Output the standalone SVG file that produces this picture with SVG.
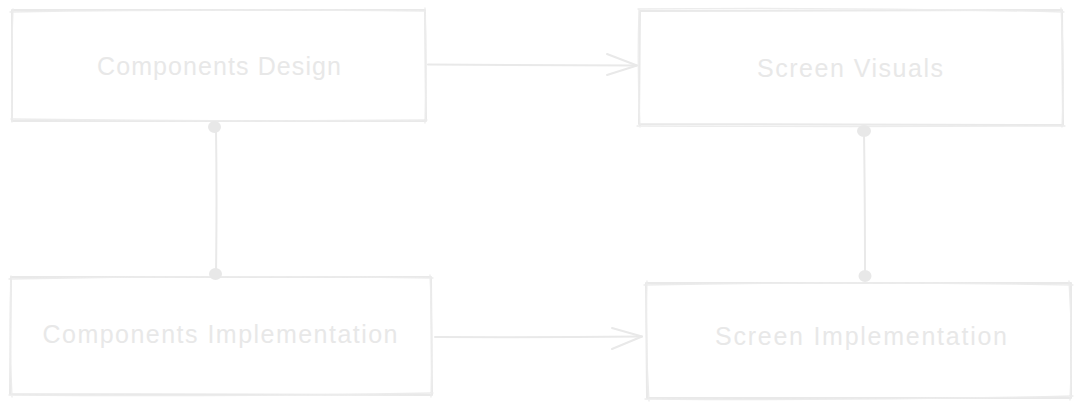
<svg xmlns="http://www.w3.org/2000/svg" width="1080" height="409" viewBox="0 0 1080 409">
<style>
.s{fill:none;stroke:#e9e9e9;stroke-width:2;stroke-linecap:round;stroke-linejoin:round}
.s2{fill:none;stroke:#ececec;stroke-width:1.3;stroke-linecap:round}
.d{fill:#e8e8e8}
.t{font-family:"Liberation Sans",Arial,sans-serif;font-size:25px;fill:#e8e8e8;text-anchor:middle}
</style>
<rect width="1080" height="409" fill="#ffffff"/>
<g id="components-design">
<path class="s" d="M12 10 L425 10 L426 121 L12 121 Z"/>
<path class="s2" d="M10 12 Q200 9 424 11 M425 8 Q427 60 425 123 M427 120 Q220 122 11 119 M12 122 Q11 60 13 9"/>
<text class="t" x="219" y="75" textLength="244" lengthAdjust="spacing">Components Design</text>
</g>
<g id="screen-visuals">
<path class="s" d="M640 11 L1062 10 L1063 125 L639 124 Z"/>
<path class="s2" d="M638 9 Q850 7 1064 12 M1061 8 Q1065 70 1062 127 M1065 126 Q850 127 637 126 M640 127 Q637 70 639 9"/>
<text class="t" x="850" y="77" textLength="186" lengthAdjust="spacing">Screen Visuals</text>
</g>
<g id="components-implementation">
<path class="s" d="M11 277 L431 277 L432 395 L10 394 Z"/>
<path class="s2" d="M9 279 Q220 275 433 278 M430 275 Q433 340 431 397 M433 393 Q220 397 9 395 M12 397 Q9 340 11 276"/>
<text class="t" x="220" y="343" textLength="355" lengthAdjust="spacing">Components Implementation</text>
</g>
<g id="screen-implementation">
<path class="s" d="M646 283 L1071 283 L1071 398 L647 398 Z"/>
<path class="s2" d="M644 285 Q860 281 1073 285 M1069 281 Q1073 340 1070 400 M1073 396 Q860 401 645 399 M649 401 Q645 340 647 281"/>
<text class="t" x="861" y="345" textLength="292" lengthAdjust="spacing">Screen Implementation</text>
</g>
<g id="connectors">
<path class="s" d="M428 64.5 Q530 65 637 65.5"/>
<path class="s" d="M607 54 L637 65.5 L607 75"/>
<path class="s" d="M435 337 Q540 337.5 642 336.5"/>
<path class="s" d="M612 328 L642 336.5 L612 349"/>
<path class="s" d="M216 128 Q217 200 216 274"/>
<ellipse class="d" cx="214.5" cy="127" rx="6.5" ry="6"/>
<ellipse class="d" cx="215.5" cy="274" rx="6.5" ry="6"/>
<path class="s" d="M864 132 Q865 200 865 275"/>
<ellipse class="d" cx="864" cy="131" rx="7" ry="6"/>
<ellipse class="d" cx="865" cy="276" rx="6.5" ry="6"/>
</g>
</svg>
